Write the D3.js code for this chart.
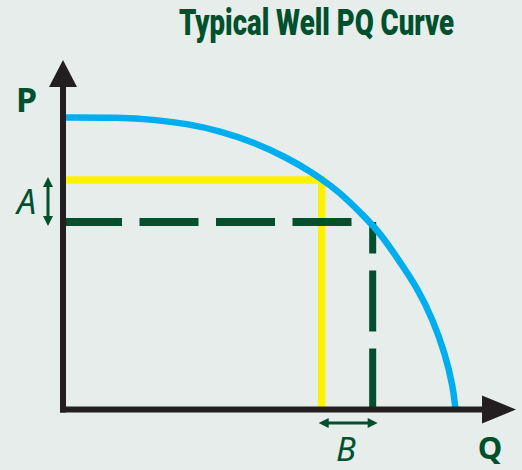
<!DOCTYPE html>
<html>
<head>
<meta charset="utf-8">
<script src="https://cdn.jsdelivr.net/npm/d3@7"></script>
<style>
  body { margin: 0; background: #e6edea; }
  svg { display: block; }
</style>
</head>
<body>
<div class="chart"></div>
<script>
// curve, Q and P in % of max
var curveQ = [0, 14.5, 23.0, 31.5, 40.0, 48.5, 57.0, 63.7, 68.0, 72.3, 76.4, 80.8, 85.0, 90.2, 94.3, 97.3, 99.4, 100];
var curveP = [100, 100, 99.3, 97.9, 95.4, 91.6, 86.3, 81.0, 76.9, 72.1, 66.6, 60.4, 52.2, 41.9, 30.6, 19.3, 7.7, 0];

// the two operating points (yellow = before, green dashed = after)
var pointQ = [65.9, 78.9];
var pointP = [78.6, 64.2];

var labels = { title: "Typical Well PQ Curve", p: "P", q: "Q", a: "A", b: "B" };

var width = 522, height = 470;
var ox = 63, oy = 409.5;

var green = "#00502e", dark = "#231f20";

var svg = d3.select(".chart")
    .append("svg")
    .attr("width", width)
    .attr("height", height);

svg.append("rect")
    .attr("width", width)
    .attr("height", height)
    .attr("fill", "#e6edea");

var x = d3.scaleLinear().domain([0, 100]).range([ox, 455.5]);
var y = d3.scaleLinear().domain([0, 100]).range([oy, 117.5]);

// yellow operating point
svg.append("path")
    .attr("d", "M" + ox + "," + y(pointP[0]) + "H" + x(pointQ[0]) + "V" + oy)
    .attr("fill", "none")
    .attr("stroke", "#fff200")
    .attr("stroke-width", 7.5)
    .attr("stroke-linejoin", "miter");

// green dashed point
svg.append("line")
    .attr("x1", ox).attr("y1", y(pointP[1]))
    .attr("x2", x(pointQ[1]) - 20.5).attr("y2", y(pointP[1]))
    .attr("stroke", green)
    .attr("stroke-width", 8)
    .attr("stroke-dasharray", "59,17.5");

svg.append("line")
    .attr("x1", x(pointQ[1])).attr("y1", oy)
    .attr("x2", x(pointQ[1])).attr("y2", y(pointP[1]))
    .attr("stroke", green)
    .attr("stroke-width", 7)
    .attr("stroke-dasharray", "61,17");

// the curve
var line = d3.line()
    .x(function (d) { return x(d[0]); })
    .y(function (d) { return y(d[1]); })
    .curve(d3.curveBasis);

svg.append("path")
    .datum(d3.zip(curveQ, curveP))
    .attr("d", line)
    .attr("fill", "none")
    .attr("stroke", "#00aeef")
    .attr("stroke-width", 6.5);

// axes with arrow heads
svg.append("line")
    .attr("x1", ox).attr("y1", oy + 3)
    .attr("x2", ox).attr("y2", 86)
    .attr("stroke", dark).attr("stroke-width", 6);
svg.append("path")
    .attr("d", "M" + ox + ",60L" + (ox - 14) + ",87L" + (ox + 14) + ",87Z")
    .attr("fill", dark);

svg.append("line")
    .attr("x1", ox - 3).attr("y1", oy)
    .attr("x2", 483).attr("y2", oy)
    .attr("stroke", dark).attr("stroke-width", 6);
svg.append("path")
    .attr("d", "M516," + oy + "L482," + (oy - 14) + "L482," + (oy + 14) + "Z")
    .attr("fill", dark);

// double arrows for A and B
function doubleArrow(x1, y1, x2, y2) {
    var g = svg.append("g").attr("fill", green);
    var ang = Math.atan2(y2 - y1, x2 - x1);
    var len = 10, hw = 5;
    function head(px, py, a) {
        var bx = px - Math.cos(a) * len, by = py - Math.sin(a) * len;
        g.append("path")
            .attr("d", "M" + px + "," + py +
                "L" + (bx - Math.sin(a) * hw) + "," + (by + Math.cos(a) * hw) +
                "L" + (bx + Math.sin(a) * hw) + "," + (by - Math.cos(a) * hw) + "Z");
    }
    g.append("line")
        .attr("x1", x1 + Math.cos(ang) * 5).attr("y1", y1 + Math.sin(ang) * 5)
        .attr("x2", x2 - Math.cos(ang) * 5).attr("y2", y2 - Math.sin(ang) * 5)
        .attr("stroke", green).attr("stroke-width", 3);
    head(x2, y2, ang);
    head(x1, y1, ang + Math.PI);
}

doubleArrow(48, y(pointP[0]) - 3, 48, y(pointP[1]) + 4);
doubleArrow(x(pointQ[0]) - 3, 423, x(pointQ[1]) + 5, 423);

// texts - title is a condensed face, so squeeze a normal one
svg.append("text")
    .attr("transform", "translate(316.5,34.5) scale(1,1.55)")
    .attr("text-anchor", "middle")
    .attr("textLength", 275)
    .attr("lengthAdjust", "spacingAndGlyphs")
    .style("font-family", "Roboto, sans-serif")
    .style("font-weight", 900)
    .style("font-size", "24px")
    .attr("fill", green)
    .text(labels.title);

svg.append("text")
    .attr("x", 26.5).attr("y", 111.5)
    .attr("text-anchor", "middle")
    .style("font-family", "'Noto Sans', sans-serif")
    .style("font-weight", 700)
    .style("font-size", "34px")
    .attr("fill", green)
    .text(labels.p);

svg.append("text")
    .attr("x", 490).attr("y", 459)
    .attr("text-anchor", "middle")
    .style("font-family", "'Noto Sans', sans-serif")
    .style("font-weight", 700)
    .style("font-size", "31px")
    .attr("fill", green)
    .text(labels.q);

svg.append("text")
    .attr("x", 26.5).attr("y", 214)
    .attr("text-anchor", "middle")
    .style("font-family", "'Noto Sans', sans-serif")
    .style("font-style", "italic")
    .style("font-size", "34px")
    .attr("fill", green)
    .text(labels.a);

svg.append("text")
    .attr("x", 346).attr("y", 461)
    .attr("text-anchor", "middle")
    .style("font-family", "'Noto Sans', sans-serif")
    .style("font-style", "italic")
    .style("font-size", "33px")
    .attr("fill", green)
    .text(labels.b);
</script>
</body>
</html>
